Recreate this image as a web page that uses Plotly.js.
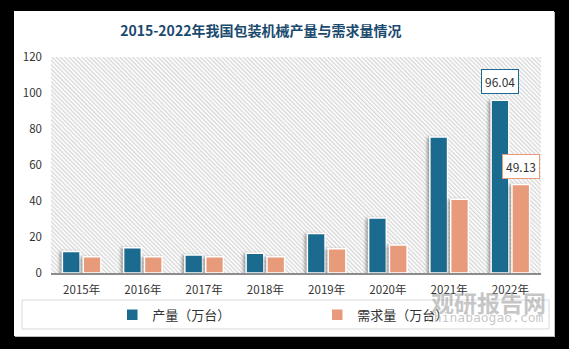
<!DOCTYPE html>
<html>
<head>
<meta charset="utf-8">
<script src="https://cdn.plot.ly/plotly-3.0.1.min.js"></script>
<style>
  html, body { margin: 0; padding: 0; background: #000; width: 569px; height: 349px; overflow: hidden; }
  #chart { position: absolute; left: 14px; top: 11px; width: 540px; height: 325px; box-shadow: 1px 1px 0 #bdbdbd; }
  #chart .trace.bars .point path { filter: drop-shadow(-2px 1px 1.5px rgba(0,0,0,0.35)); }
</style>
</head>
<body>
<div id="chart"></div>
<script>
const years = ['2015年', '2016年', '2017年', '2018年', '2019年', '2020年', '2021年', '2022年'];
const production = [12, 14, 10, 11, 22, 30.5, 75.5, 96.04];
const demand = [9, 9, 9, 9, 13.5, 15.5, 41, 49.13];
const seriesNames = ['产量（万台）', '需求量（万台）'];
const labelIndex = 7;

const blue = '#1b6a8f';
const salmon = '#e89b7b';
const bargap = 0.32;
const font = '"Noto Sans CJK SC", "Noto Sans", sans-serif';

// hatched plot background (pattern only, no data)
const hatch = 'data:image/svg+xml;utf8,' + encodeURIComponent(
  '<svg xmlns="http://www.w3.org/2000/svg" width="490" height="216" viewBox="0 0 490 216" preserveAspectRatio="none">' +
  '<defs><pattern id="p" width="3" height="3" patternUnits="userSpaceOnUse" patternTransform="rotate(-45)">' +
  '<rect width="3" height="3" fill="#ffffff"/><rect width="1.3" height="3" fill="#d6d6d6"/></pattern></defs>' +
  '<rect width="490" height="216" fill="url(#p)"/></svg>');

const traces = [
  { type: 'bar', name: seriesNames[0], x: years, y: production,
    marker: { color: blue, line: { color: '#ffffff', width: 1.5 } }, hoverinfo: 'none' },
  { type: 'bar', name: seriesNames[1], x: years, y: demand,
    marker: { color: salmon, line: { color: '#ffffff', width: 1.5 } }, hoverinfo: 'none' }
];

const off = (1 - bargap) / 4;
const layout = {
  width: 540, height: 325,
  margin: { l: 37, r: 13, t: 46, b: 63, autoexpand: false },
  paper_bgcolor: '#ffffff',
  plot_bgcolor: 'rgba(0,0,0,0)',
  font: { family: font, size: 11.5, color: '#333333' },
  title: { text: '2015-2022年我国包装机械产量与需求量情况', font: { family: font, size: 14, color: '#1a4a6e', weight: 'bold' },
           x: 0.457, xanchor: 'center', y: 1 - 20 / 325, yanchor: 'middle', xref: 'container', yref: 'container' },
  barmode: 'group', bargap: bargap, bargroupgap: 0.15,
  xaxis: { type: 'category', showgrid: false, showline: true, linecolor: '#8c8c8c', linewidth: 1.5,
           ticks: '', ticklabelstandoff: 6, tickfont: { size: 11.5, color: '#333' }, fixedrange: true, automargin: false },
  yaxis: { range: [0, 120], dtick: 20, showgrid: false, zeroline: false, showline: false, ticks: '',
           ticklabelstandoff: 8, tickfont: { size: 11.5, color: '#333' }, fixedrange: true, automargin: false },
  showlegend: true,
  legend: { orientation: 'h', x: 0.125, xanchor: 'left', y: -0.194, yanchor: 'middle',
            entrywidth: 160, entrywidthmode: 'pixels', itemwidth: 30, itemclick: false,
            font: { size: 13, color: '#333' }, bgcolor: 'rgba(0,0,0,0)' },
  images: [{ source: hatch, xref: 'paper', yref: 'paper', x: 0, y: 1, sizex: 1, sizey: 1,
             sizing: 'stretch', xanchor: 'left', yanchor: 'top', layer: 'below' }],
  shapes: [{ type: 'rect', xref: 'paper', yref: 'paper', x0: -0.0592, x1: 1.0163, y0: -0.125, y1: -0.259,
             line: { color: '#d9d9d9', width: 1 }, fillcolor: 'rgba(0,0,0,0)', layer: 'below' }],
  annotations: [
    { x: labelIndex - off, y: production[labelIndex], xref: 'x', yref: 'y', text: production[labelIndex].toFixed(2),
      showarrow: false, yanchor: 'bottom', yshift: 6, bgcolor: '#ffffff', bordercolor: blue, borderwidth: 1,
      borderpad: 3, font: { size: 12, color: '#333' } },
    { x: labelIndex + off, y: demand[labelIndex], xref: 'x', yref: 'y', text: demand[labelIndex].toFixed(2),
      showarrow: false, yanchor: 'bottom', yshift: 6, bgcolor: '#ffffff', bordercolor: salmon, borderwidth: 1,
      borderpad: 3, font: { size: 12, color: '#333' } },
    { x: 0.892, y: -0.134, xref: 'paper', yref: 'paper', xanchor: 'center', yanchor: 'middle',
      text: '<b>观研报告网</b>', showarrow: false,
      font: { size: 23, color: 'rgba(160,160,160,0.6)' } },
    { x: 0.885, y: -0.208, xref: 'paper', yref: 'paper', xanchor: 'center', yanchor: 'middle',
      text: 'chinabaogao.com', showarrow: false,
      font: { size: 13, color: 'rgba(160,160,160,0.6)', family: '"DejaVu Sans Mono", monospace' } }
  ]
};

Plotly.newPlot('chart', traces, layout, { displayModeBar: false, staticPlot: true });
</script>
</body>
</html>
